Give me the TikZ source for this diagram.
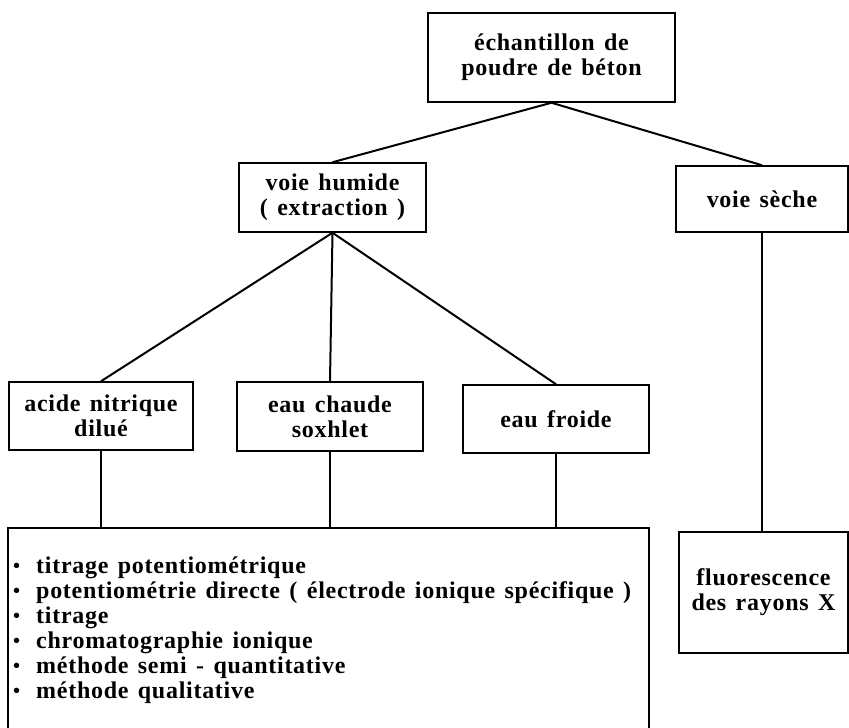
\documentclass[tikz,border=0pt]{standalone}
\usepackage{fontspec}
\newfontfamily\boxfont{Liberation Serif}[LetterSpace=3, WordSpace=1.4]
\newcommand\boxtext{\boxfont\bfseries\fontsize{24}{25}\selectfont}
\newcommand\bul{\makebox[23pt][l]{\fontsize{20}{20}\selectfont\raisebox{1pt}{•}}}
\tikzset{
  box/.style={draw, line width=1.5pt, align=center, inner sep=0pt, font=\boxtext},
  boxline/.style={line width=1.5pt, line join=miter},
  diag/.style={line width=2pt},
  vert/.style={line width=1.3pt},
  item/.style={anchor=base west, inner sep=0pt, font=\boxtext}
}
\begin{document}
\begin{tikzpicture}[x=1pt,y=-1pt]
\useasboundingbox (0,0) rectangle (849,728);

\node[box, minimum width=247pt, minimum height=89pt] (top) at (551.5,57.5) {échantillon de\\poudre de béton};
\node[box, minimum width=187pt, minimum height=69pt] (humide) at (332.5,197.5) {voie humide\\( extraction )};
\node[box, minimum width=172pt, minimum height=66pt] (seche) at (762,199) {voie sèche};
\node[box, minimum width=184pt, minimum height=68pt] (acide) at (101,416) {acide nitrique\\dilué};
\node[box, minimum width=186pt, minimum height=69pt] (chaude) at (330,416.5) {eau chaude\\soxhlet};
\node[box, minimum width=186pt, minimum height=68pt] (froide) at (556,419) {eau froide};
\node[box, minimum width=169pt, minimum height=121pt] (fluo) at (763.5,592.5) {fluorescence\\des rayons X};

\coordinate (bigtl) at (8,528);
\coordinate (bigtr) at (649,528);
\coordinate (bigbl) at (8,740);
\coordinate (bigbr) at (649,740);
\draw[boxline] (bigbl) -- (bigtl) -- (bigtr) -- (bigbr);

\node[item] (l1) at (13,573) {\bul titrage potentiométrique};
\node[item] (l2) at (13,598) {\bul potentiométrie directe ( électrode ionique spécifique )};
\node[item] (l3) at (13,623) {\bul titrage};
\node[item] (l4) at (13,648) {\bul chromatographie ionique};
\node[item] (l5) at (13,673) {\bul méthode semi - quantitative};
\node[item] (l6) at (13,698) {\bul méthode qualitative};

\draw[diag] (top.south) -- (humide.north);
\draw[diag] (top.south) -- (seche.north);
\draw[diag] (humide.south) -- (acide.north);
\draw[diag] (humide.south) -- (chaude.north);
\draw[diag] (humide.south) -- (froide.north);

\draw[vert] (acide.south) -- (acide.south |- bigtl);
\draw[vert] (chaude.south) -- (chaude.south |- bigtl);
\draw[vert] (froide.south) -- (froide.south |- bigtl);
\draw[vert] (seche.south) -- (seche.south |- fluo.north);
\end{tikzpicture}
\end{document}
